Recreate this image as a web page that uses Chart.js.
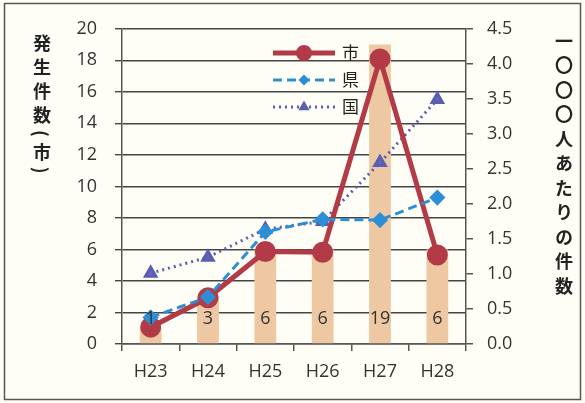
<html>
  <head>
    <meta charset="utf-8">
    <script src="https://cdn.jsdelivr.net/npm/chart.js"></script>
    <style>
      body { margin: 0; background: #fff; }
      #wrap { position: relative; width: 585px; height: 403px; }
      .vt {
        position: absolute; writing-mode: vertical-rl; text-orientation: mixed;
        font-family: "Noto Sans CJK JP", sans-serif; font-weight: bold; color: #222;
      }
    </style>
  </head>
  <body>
    <div id="wrap">
      <canvas id="myChart" width="585" height="403"></canvas>
      <div class="vt" style="left:29px; top:34px; font-size:18px; letter-spacing:6px;">発生件数(市)</div>
      <div class="vt" style="left:551px; top:32px; font-size:18px; letter-spacing:6.5px;">一〇〇〇人あたりの件数</div>
    </div>
    <script>
      const years = ['H23', 'H24', 'H25', 'H26', 'H27', 'H28'];
      const cityCases = [1, 3, 6, 6, 19, 6];
      const cityRate = [0.24, 0.66, 1.32, 1.31, 4.07, 1.27];
      const prefRate = [0.38, 0.67, 1.60, 1.78, 1.77, 2.09];
      const nationRate = [1.01, 1.24, 1.64, 1.75, 2.59, 3.49];
      const leftTicks = [0, 2, 4, 6, 8, 10, 12, 14, 16, 18, 20];
      const rightTicks = [0, 0.5, 1, 1.5, 2, 2.5, 3, 3.5, 4, 4.5];

      const tickFont = { family: 'Open Sans', size: 18 };
      const ink = '#333';

      const data = {
        labels: years,
        datasets: [
          {
            type: 'line', label: '市', data: cityRate, yAxisID: 'y1', order: 2,
            borderColor: '#B33A47', backgroundColor: '#B33A47', borderWidth: 5,
            pointStyle: 'circle', pointRadius: 8, tension: 0
          },
          {
            type: 'line', label: '県', data: prefRate, yAxisID: 'y1', order: 1,
            borderColor: '#2C8FD6', backgroundColor: '#2C8FD6', borderWidth: 3,
            borderDash: [9, 5], pointStyle: 'rectRot', pointRadius: 6, tension: 0
          },
          {
            type: 'line', label: '国', data: nationRate, yAxisID: 'y1', order: 3,
            borderColor: '#5A5DB4', backgroundColor: '#6A64B8', borderWidth: 3,
            borderDash: [2, 4], pointStyle: 'triangle', pointRadius: 6, tension: 0
          },
          {
            type: 'bar', label: '件数', data: cityCases, yAxisID: 'y', order: 10,
            backgroundColor: '#EDC8A2', barPercentage: 0.38, categoryPercentage: 1
          }
        ]
      };

      // frame and cream background
      const frame = {
        id: 'frame',
        beforeDraw(chart) {
          const c = chart.ctx;
          c.save();
          c.fillStyle = '#FFFEF6';
          c.fillRect(0, 0, 585, 403);
          c.strokeStyle = '#555';
          c.lineWidth = 1.5;
          c.strokeRect(4.5, 3.5, 576, 396);
          c.restore();
        }
      };

      // count labels on the bars + legend inside the plot
      const extras = {
        id: 'extras',
        afterDatasetsDraw(chart) {
          const c = chart.ctx;
          const meta = chart.getDatasetMeta(3);
          c.save();
          c.font = '18px "Open Sans"';
          c.fillStyle = ink;
          c.textAlign = 'center';
          c.textBaseline = 'middle';
          meta.data.forEach((bar, i) => {
            c.fillText(String(cityCases[i]), bar.x, chart.chartArea.bottom - 25);
          });
          // legend
          [0, 1, 2].forEach((di, r) => {
            const ds = chart.data.datasets[di];
            const y = 53 + r * 27;
            const x0 = 273, x1 = 335;
            c.strokeStyle = ds.borderColor;
            c.lineWidth = ds.borderWidth;
            c.setLineDash(ds.borderDash || []);
            c.beginPath(); c.moveTo(x0, y); c.lineTo(x1, y); c.stroke();
            c.setLineDash([]);
            c.fillStyle = ds.backgroundColor;
            c.strokeStyle = ds.borderColor;
            Chart.helpers.drawPoint(c, {
              pointStyle: ds.pointStyle, radius: ds.pointRadius - 2.5, borderWidth: 1
            }, (x0 + x1) / 2, y);
            c.font = '17px "Noto Sans CJK JP"';
            c.fillStyle = '#222';
            c.textAlign = 'left';
            c.fillText(ds.label, 342, y);
          });
          c.restore();
        }
      };

      const config = {
        data: data,
        options: {
          responsive: false,
          animation: false,
          layout: { padding: { left: 70, right: 59, top: 28, bottom: 19 } },
          plugins: { legend: { display: false }, tooltip: { enabled: false } },
          scales: {
            x: {
              grid: { drawOnChartArea: false, offset: true, tickLength: 7, color: '#555', lineWidth: 1.5 },
              border: { color: '#555', width: 1.5 },
              ticks: { color: ink, font: tickFont, padding: 10 },
              afterFit: s => { s.height = 40; }
            },
            y: {
              position: 'left', min: 0, max: 20,
              afterBuildTicks: s => { s.ticks = leftTicks.map(v => ({ value: v })); },
              grid: { color: '#444', lineWidth: 1.4, tickLength: 7 },
              border: { color: '#555', width: 1.5 },
              ticks: { color: ink, font: tickFont, padding: 18 },
              afterFit: s => { s.width = 52; }
            },
            y1: {
              position: 'right', min: 0, max: 4.5,
              afterBuildTicks: s => { s.ticks = rightTicks.map(v => ({ value: v })); },
              grid: { drawOnChartArea: false, color: '#555', tickLength: 7, lineWidth: 1.5 },
              border: { color: '#555', width: 1.5 },
              ticks: { color: ink, font: tickFont, padding: 14, callback: v => Number(v).toFixed(1) },
              afterFit: s => { s.width = 60; }
            }
          }
        },
        plugins: [frame, extras]
      };

      const ctx = document.getElementById('myChart').getContext('2d');
      const myChart = new Chart(ctx, config);
    </script>
  </body>
</html>
